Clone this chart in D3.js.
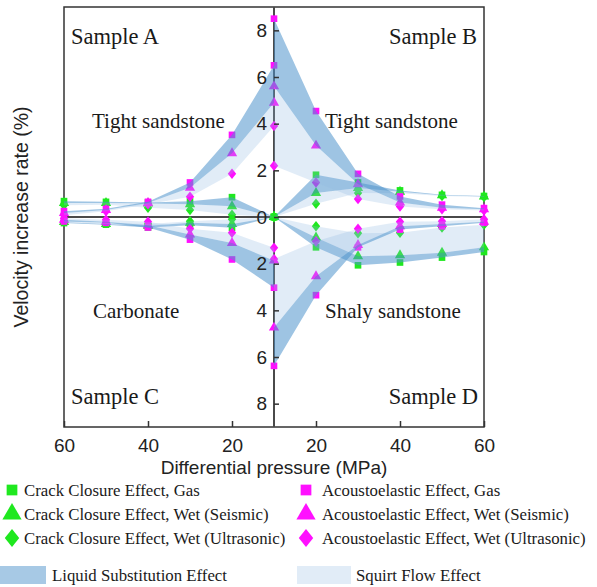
<!DOCTYPE html>
<html>
<head>
<meta charset="utf-8">
<script src="https://cdn.jsdelivr.net/npm/d3@7"></script>
<style>
  body { margin: 0; background: #fff; }
  svg { display: block; }
  .serif { font-family: "Liberation Serif", "Times New Roman", serif; fill: #1a1a1a; }
  .sans { font-family: "Liberation Sans", Arial, sans-serif; fill: #222; }
</style>
</head>
<body>
<div id="chart"></div>
<script>
// pressure steps (MPa), same for every sample, the center line is 10 MPa
const pressure = [10, 20, 30, 40, 50, 60];

// Sample A, tight sandstone (upper left)
const aCrackGas   = [0, 0.85, 0.67, 0.62, 0.65, 0.68];
const aCrackSeis  = [0, 0.46, 0.55, 0.58, 0.6, 0.6];
const aCrackUltra = [0, 0.1, 0.3, 0.4, 0.52, 0.5];
const aAcouGas    = [6.5, 3.52, 1.48, 0.65, 0.35, 0.25];
const aAcouSeis   = [4.9, 2.73, 1.25, 0.6, 0.3, 0.17];
const aAcouUltra  = [3.9, 1.85, 0.87, 0.55, 0.25, 0.08];

// Sample B, tight sandstone (upper right)
const bCrackGas   = [0, 1.81, 1.48, 1.14, 0.95, 0.9];
const bCrackSeis  = [0, 1.03, 1.24, 1.08, 0.93, 0.88];
const bCrackUltra = [0, 0.57, 1.03, 1.02, 0.9, 0.86];
const bAcouGas    = [8.5, 4.54, 1.85, 0.88, 0.53, 0.38];
const bAcouSeis   = [5.6, 3.06, 1.41, 0.62, 0.4, 0.33];
const bAcouUltra  = [2.2, 1.48, 0.77, 0.45, 0.33, 0.28];

// Sample C, carbonate (lower left)
const cCrackGas   = [0, -0.46, -0.35, -0.45, -0.33, -0.26];
const cCrackSeis  = [0, -0.3, -0.25, -0.38, -0.3, -0.22];
const cCrackUltra = [0, -0.1, -0.18, -0.3, -0.26, -0.18];
const cAcouGas    = [-3.03, -1.82, -0.97, -0.45, -0.25, -0.19];
const cAcouSeis   = [-1.87, -1.11, -0.75, -0.35, -0.2, -0.12];
const cAcouUltra  = [-1.32, -0.68, -0.5, -0.2, -0.12, -0.05];

// Sample D, shaly sandstone (lower right)
const dCrackGas   = [0, -1.3, -2.07, -1.95, -1.74, -1.5];
const dCrackSeis  = [0, -0.88, -1.68, -1.64, -1.53, -1.3];
const dCrackUltra = [0, -0.4, -0.7, -0.67, -0.45, -0.33];
const dAcouGas    = [-6.38, -3.35, -1.3, -0.54, -0.4, -0.25];
const dAcouSeis   = [-4.74, -2.54, -1.2, -0.4, -0.3, -0.2];
const dAcouUltra  = [-1.8, -1.04, -0.5, -0.2, -0.18, -0.1];

const xTicks = [20, 40, 60];
const yTicks = [-8, -6, -4, -2, 0, 2, 4, 6, 8];

const legendRows = [
  "Crack Closure Effect, Gas",
  "Crack Closure Effect, Wet (Seismic)",
  "Crack Closure Effect, Wet (Ultrasonic)"
];
const legendRows2 = [
  "Acoustoelastic Effect, Gas",
  "Acoustoelastic Effect, Wet (Seismic)",
  "Acoustoelastic Effect, Wet (Ultrasonic)"
];

const width = 597, height = 587;
const plotL = 64, plotR = 484, plotT = 7, plotB = 427, mid = 274;

const green = "#1fe81f", magenta = "#ff10ff";
const liquidCol = "#4f93cc", squirtCol = "#8fb8e0";

const xL = d3.scaleLinear().domain([10, 60]).range([mid, plotL]);
const xR = d3.scaleLinear().domain([10, 60]).range([mid, plotR]);
const y = d3.scaleLinear().domain([-9, 9]).range([plotB, plotT]);

// wider diamond than d3's own
const diamond = {
  draw(ctx, size) {
    const r = Math.sqrt(size / 1.6), w = r * 0.8;
    ctx.moveTo(0, -r); ctx.lineTo(w, 0); ctx.lineTo(0, r); ctx.lineTo(-w, 0); ctx.closePath();
  }
};
const shapes = [d3.symbolSquare, d3.symbolTriangle, diamond];
const sizes = [44, 46, 44];

const samples = [
  {x: xL, crack: [aCrackGas, aCrackSeis, aCrackUltra], acou: [aAcouGas, aAcouSeis, aAcouUltra]},
  {x: xR, crack: [bCrackGas, bCrackSeis, bCrackUltra], acou: [bAcouGas, bAcouSeis, bAcouUltra]},
  {x: xL, crack: [cCrackGas, cCrackSeis, cCrackUltra], acou: [cAcouGas, cAcouSeis, cAcouUltra]},
  {x: xR, crack: [dCrackGas, dCrackSeis, dCrackUltra], acou: [dAcouGas, dAcouSeis, dAcouUltra]}
];

const svg = d3.select("#chart").append("svg")
  .attr("width", width).attr("height", height);

// frame
svg.append("rect")
  .attr("x", plotL).attr("y", plotT)
  .attr("width", plotR - plotL).attr("height", plotB - plotT)
  .attr("fill", "none").attr("stroke", "#333").attr("stroke-width", 1.5);

// zero line and center line
svg.append("line").attr("x1", plotL).attr("x2", plotR)
  .attr("y1", y(0)).attr("y2", y(0))
  .attr("stroke", "#4a4a4a").attr("stroke-width", 2);
svg.append("line").attr("x1", mid).attr("x2", mid)
  .attr("y1", plotT).attr("y2", plotB)
  .attr("stroke", "#4a4a4a").attr("stroke-width", 2);

// markers
const marks = svg.append("g");
samples.forEach(s => {
  [["crack", green], ["acou", magenta]].forEach(([key, col]) => {
    s[key].forEach((vals, i) => {
      marks.append("g").selectAll("path")
        .data(vals)
        .join("path")
        .attr("transform", (d, j) => `translate(${s.x(pressure[j])},${y(d)})`)
        .attr("d", d3.symbol(shapes[i], sizes[i]))
        .attr("fill", col);
    });
  });
});

// effect bands, drawn over the markers
const bands = svg.append("g");
samples.forEach(s => {
  ["crack", "acou"].forEach(key => {
    const [gas, seis, ultra] = s[key];
    const area = (a, b) => d3.area()
      .x((d, j) => s.x(pressure[j]))
      .y0((d, j) => y(a[j]))
      .y1((d, j) => y(b[j]))(pressure);
    bands.append("path").attr("d", area(seis, ultra))
      .attr("fill", squirtCol).attr("fill-opacity", 0.27);
    bands.append("path").attr("d", area(gas, seis))
      .attr("fill", liquidCol).attr("fill-opacity", 0.55);
  });
});

// x axes, two halves
[xL, xR].forEach(sc => {
  const ax = svg.append("g")
    .attr("transform", `translate(0,${plotB})`)
    .call(d3.axisBottom(sc).tickValues(xTicks).tickSizeInner(-6).tickSizeOuter(0).tickPadding(12));
  ax.select(".domain").remove();
  ax.selectAll("line").attr("stroke", "#333").attr("stroke-width", 1.5);
  ax.selectAll("text").attr("class", "sans").attr("font-size", 19).attr("fill", "#222");
});

// y axis on the center line
const yAx = svg.append("g")
  .attr("transform", `translate(${mid},0)`)
  .call(d3.axisLeft(y).tickValues(yTicks).tickFormat(d => Math.abs(d))
    .tickSizeInner(-5).tickSizeOuter(0).tickPadding(7));
yAx.select(".domain").remove();
yAx.selectAll("line").attr("stroke", "#333").attr("stroke-width", 1.5);
yAx.selectAll("text").attr("class", "sans").attr("font-size", 19).attr("fill", "#222");

// axis titles
svg.append("text").attr("class", "sans")
  .attr("x", mid).attr("y", 474).attr("text-anchor", "middle")
  .attr("font-size", 19).text("Differential pressure (MPa)");
svg.append("text").attr("class", "sans")
  .attr("transform", `translate(28,${y(0)}) rotate(-90)`)
  .attr("text-anchor", "middle").attr("font-size", 19.5)
  .text("Velocity increase rate (%)");

// sample labels
const lab = (x, yy, t, size, anchor) => svg.append("text").attr("class", "serif")
  .attr("x", x).attr("y", yy).attr("font-size", size)
  .attr("text-anchor", anchor || "start").text(t);
lab(71, 44, "Sample A", 22.5);
lab(477, 44, "Sample B", 22.5, "end");
lab(71, 404, "Sample C", 22.5);
lab(478, 404, "Sample D", 22.5, "end");
lab(92, 128, "Tight sandstone", 21);
lab(325, 128, "Tight sandstone", 21);
lab(93, 318, "Carbonate", 21);
lab(325, 318, "Shaly sandstone", 21);

// legend
const leg = svg.append("g");
const rowY = [490, 514, 538];
const legSizes = [115, 160, 130];
[[legendRows, green, 12, 24], [legendRows2, magenta, 306, 322]].forEach(([rows, col, mx, tx]) => {
  rows.forEach((t, i) => {
    leg.append("path")
      .attr("transform", `translate(${mx},${rowY[i]})`)
      .attr("d", d3.symbol(shapes[i], legSizes[i]))
      .attr("fill", col);
    leg.append("text").attr("class", "serif")
      .attr("x", tx).attr("y", rowY[i] + 5.5).attr("font-size", 16.8).text(t);
  });
});
leg.append("rect").attr("x", 0).attr("y", 566).attr("width", 46).attr("height", 18)
  .attr("fill", liquidCol).attr("fill-opacity", 0.5);
leg.append("text").attr("class", "serif").attr("x", 52).attr("y", 581)
  .attr("font-size", 16.8).text("Liquid Substitution Effect");
leg.append("rect").attr("x", 297).attr("y", 566).attr("width", 54).attr("height", 18)
  .attr("fill", squirtCol).attr("fill-opacity", 0.27);
leg.append("text").attr("class", "serif").attr("x", 356).attr("y", 581)
  .attr("font-size", 16.8).text("Squirt Flow Effect");
</script>
</body>
</html>
